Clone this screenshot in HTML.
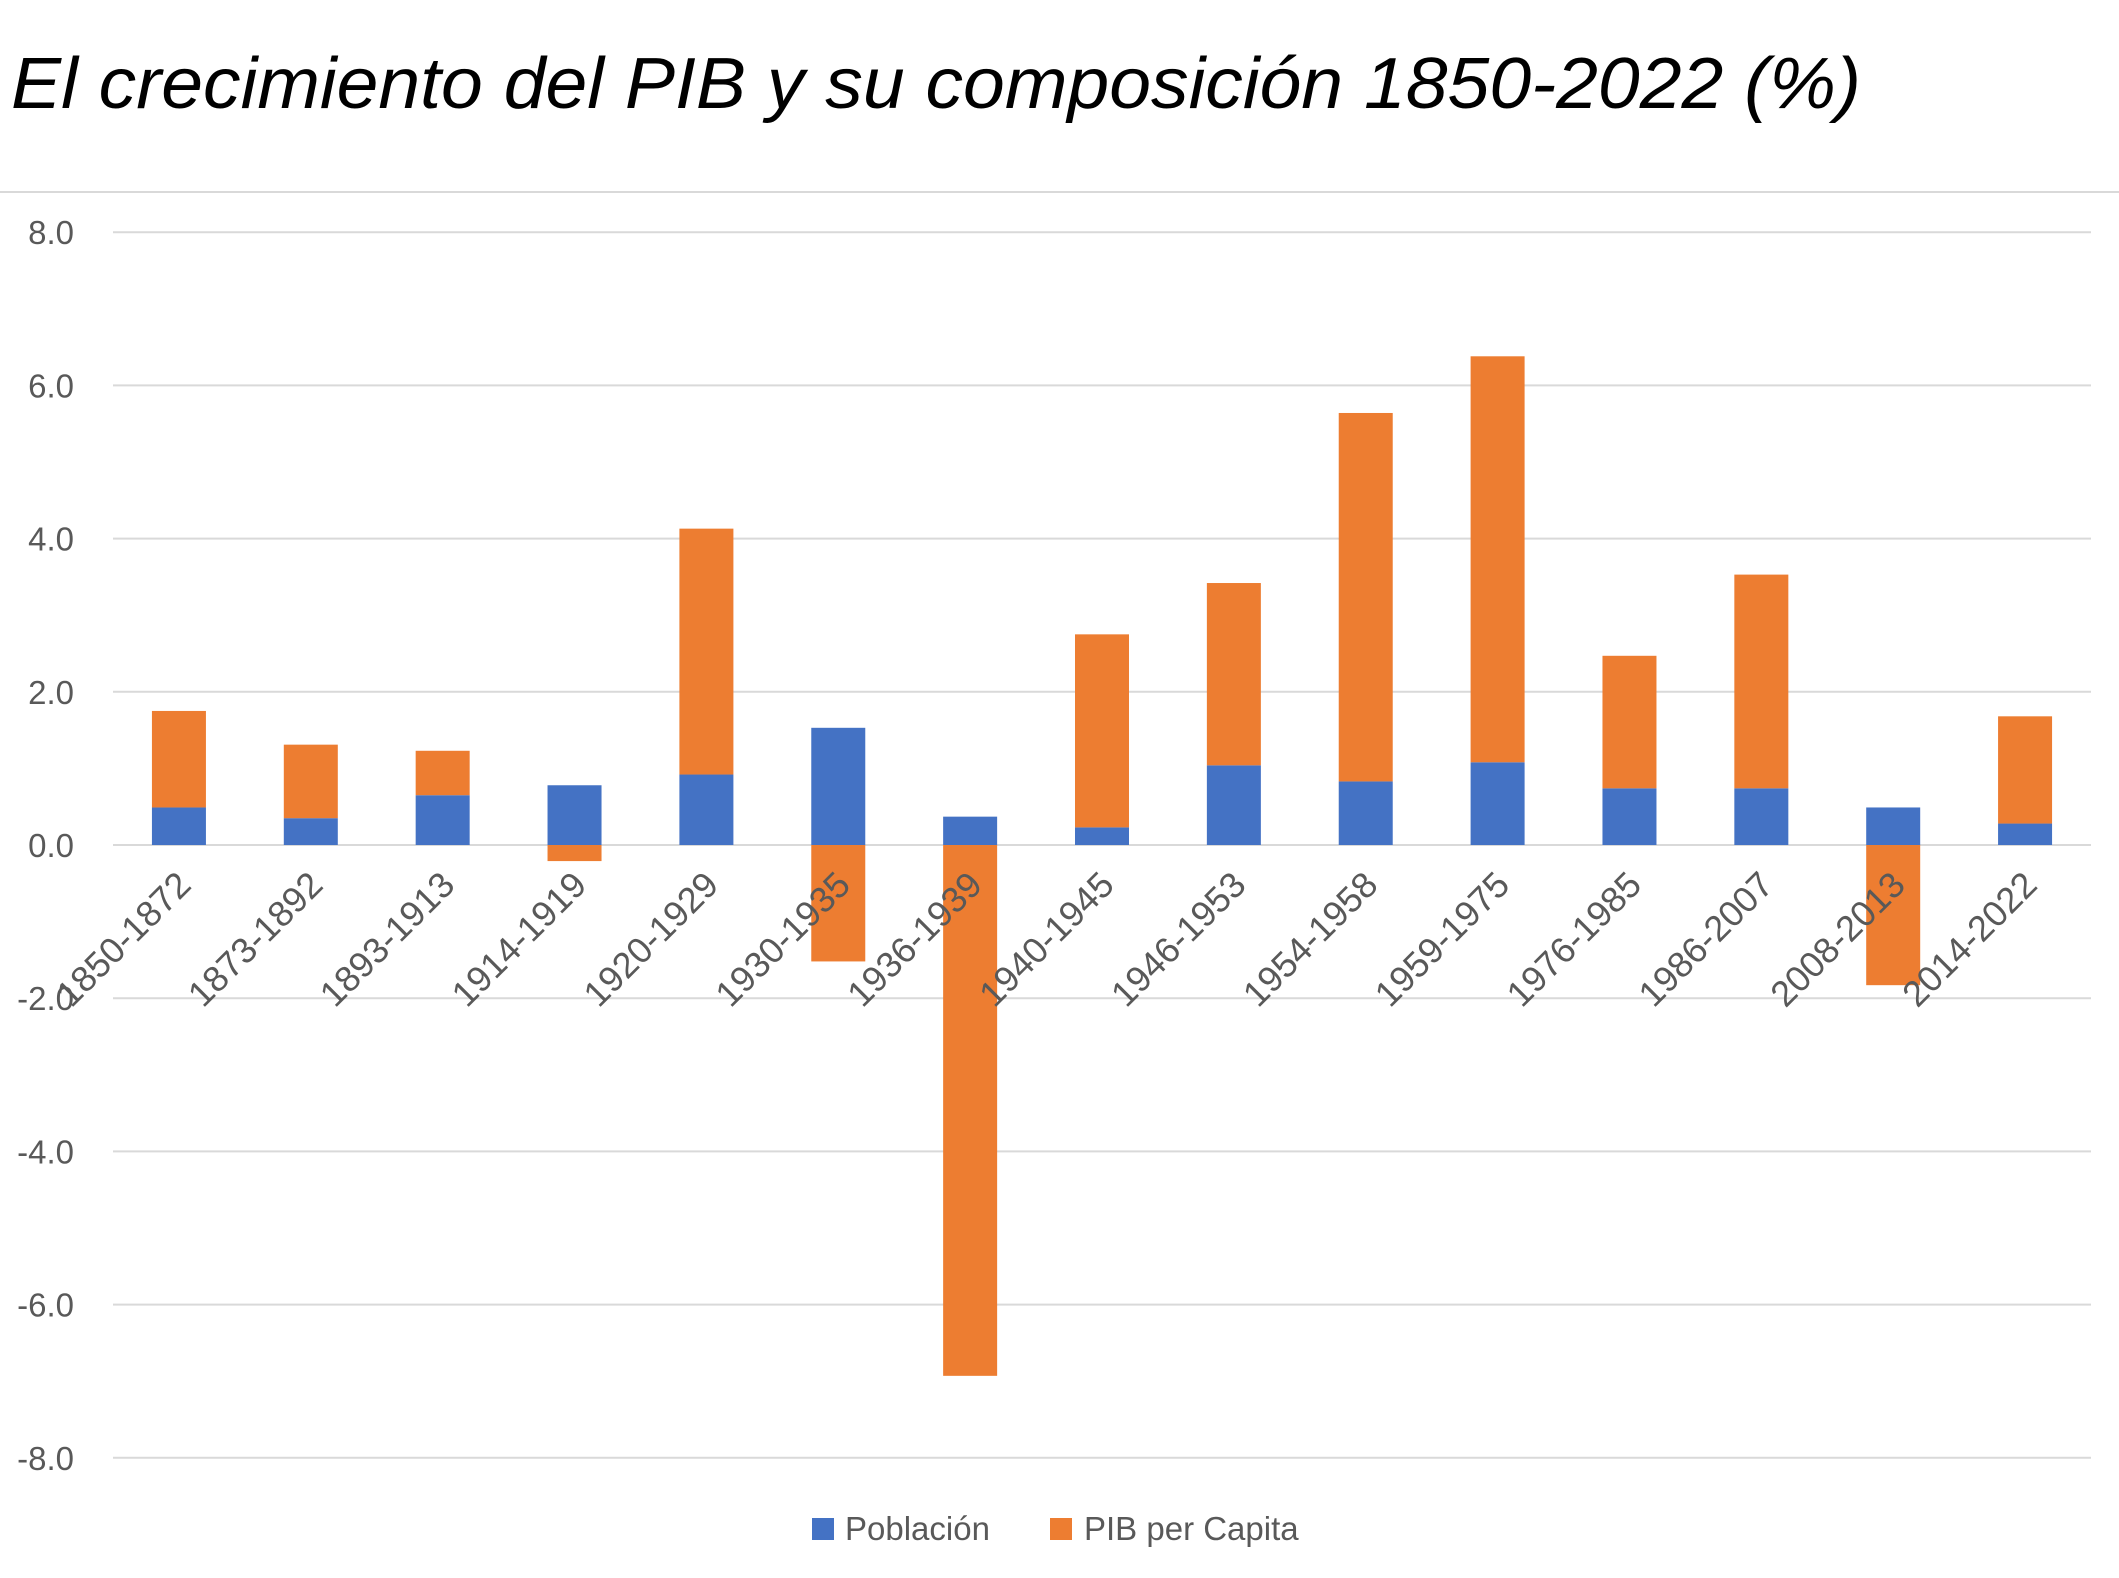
<!DOCTYPE html>
<html><head><meta charset="utf-8"><style>
html,body{margin:0;padding:0;background:#fff;}
svg{display:block;font-family:"Liberation Sans",sans-serif;}
</style></head><body>
<svg id="chart" width="2119" height="1578" viewBox="0 0 2119 1578" xmlns="http://www.w3.org/2000/svg">
<text x="11" y="108" font-size="72" font-style="italic" fill="#000" textLength="1850" lengthAdjust="spacingAndGlyphs">El crecimiento del PIB y su composición 1850-2022 (%)</text>
<line x1="0" y1="192" x2="2119" y2="192" stroke="#d9d9d9" stroke-width="2"/>
<g id="grid"></g>
<g id="yticks"></g>
<g id="bars"></g>
<g id="xticks"></g>
<g>
  <g>
    <rect x="812" y="1518" width="22" height="22" fill="#4472C4"/>
    <text x="845" y="1540" font-size="33" fill="#595959">Población</text>
  </g>
  <g>
    <rect x="1050" y="1518" width="22" height="22" fill="#ED7D31"/>
    <text x="1084" y="1540" font-size="33" fill="#595959">PIB per Capita</text>
  </g>
</g>
</svg>
<script>
const categories = ["1850-1872","1873-1892","1893-1913","1914-1919","1920-1929","1930-1935","1936-1939","1940-1945","1946-1953","1954-1958","1959-1975","1976-1985","1986-2007","2008-2013","2014-2022"];
const poblacion = [0.49,0.35,0.65,0.78,0.92,1.53,0.37,0.23,1.04,0.83,1.08,0.74,0.74,0.49,0.28];
const pibPerCapita = [1.26,0.96,0.58,-0.21,3.21,-1.52,-6.93,2.52,2.38,4.81,5.30,1.73,2.79,-1.83,1.40];
const yTicks = [8,6,4,2,0,-2,-4,-6,-8];

const NS = "http://www.w3.org/2000/svg";
const plotL = 113, plotR = 2091, zeroY = 845, unit = 76.6;
function y(v){ return zeroY - v*unit; }
function xc(i){ const bw=(plotR-plotL)/categories.length; return plotL + bw*(i+0.5); }
const barW = 54;
function mk(tag, attrs, parent){ const e=document.createElementNS(NS,tag); for(const k in attrs) e.setAttribute(k,attrs[k]); parent.appendChild(e); return e; }

const grid=document.getElementById('grid'), yt=document.getElementById('yticks');
yTicks.forEach(t=>{
  const l=mk('line',{x1:plotL,x2:plotR,y1:y(t),y2:y(t),stroke:'#d9d9d9','stroke-width':2},grid);
  
  
  const tx=mk('text',{x:74,y:y(t)+12,'font-size':33,fill:'#595959','text-anchor':'end'},yt);
  
  
  tx.textContent=t.toFixed(1);
});

const bars=document.getElementById('bars'), xt=document.getElementById('xticks');
categories.forEach((c,i)=>{
  const cx=xc(i), p=poblacion[i], q=pibPerCapita[i];
  const b1=mk('rect',{x:cx-barW/2,width:barW,y:Math.min(y(p),y(0)),height:Math.abs(y(p)-y(0)),fill:'#4472C4'},bars);
  
  
  const base = q>=0 ? Math.max(p,0) : Math.min(p,0);
  const top = base+q;
  const b2=mk('rect',{x:cx-barW/2,width:barW,y:Math.min(y(base),y(top)),height:Math.abs(y(top)-y(base)),fill:'#ED7D31'},bars);
  
  
  const tx=mk('text',{x:0,y:0,'font-size':36,fill:'#595959','text-anchor':'end',transform:`translate(${cx+14},${zeroY+42}) rotate(-45)`},xt);
  
  
  tx.textContent=c;
});
</script>
</body></html>
